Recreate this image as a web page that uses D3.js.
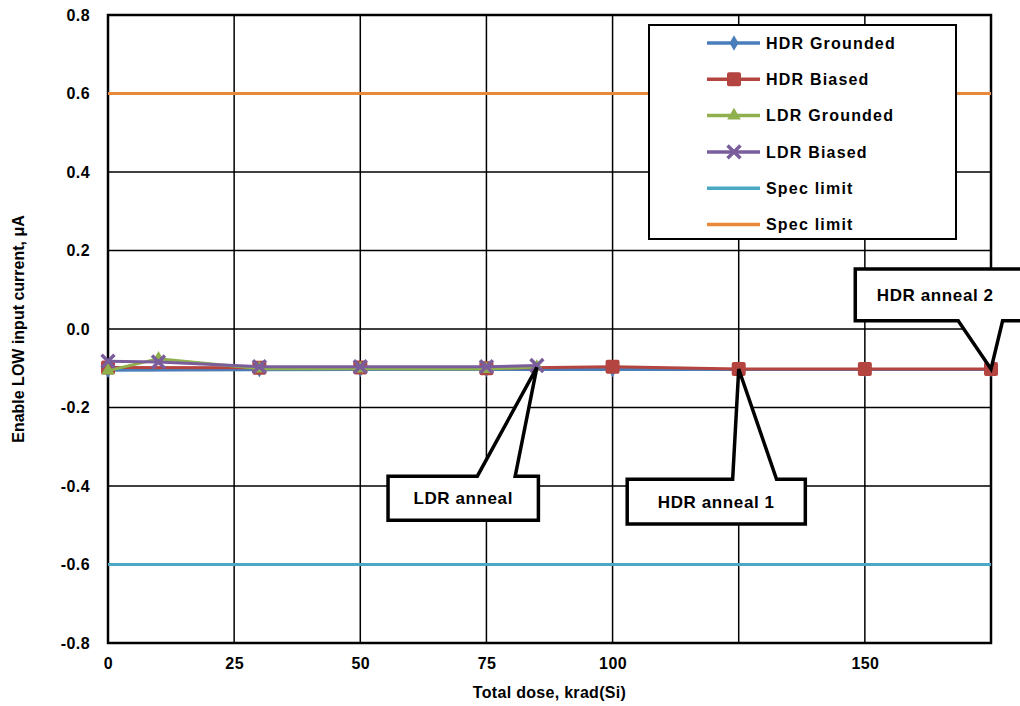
<!DOCTYPE html>
<html>
<head>
<meta charset="utf-8">
<script src="https://cdn.jsdelivr.net/npm/d3@7"></script>
<style>
  body { margin: 0; background: #fff; }
  text { font-family: "Liberation Sans", Arial, sans-serif; font-weight: bold; fill: #000; }
</style>
</head>
<body>
<svg id="chart"></svg>
<script>
// Enable LOW input current vs total dose

var WIDTH = 1020,
    HEIGHT = 706;

var margin = {top: 15, right: 29, bottom: 63, left: 108},
    width = WIDTH - margin.left - margin.right,
    height = HEIGHT - margin.top - margin.bottom;

// data
var hdrDose = [0, 30, 50, 75, 100, 125, 150, 175];
var hdrGrounded = [-0.105, -0.104, -0.103, -0.103, -0.103, -0.103, -0.103, -0.103];
var hdrBiased = [-0.098, -0.099, -0.098, -0.100, -0.096, -0.102, -0.102, -0.102];

var ldrDose = [0, 10, 30, 50, 75, 85];
var ldrGrounded = [-0.106, -0.076, -0.101, -0.101, -0.102, -0.097];
var ldrBiased = [-0.082, -0.084, -0.096, -0.096, -0.096, -0.093];

var specDose = [0, 175];
var specLow = [-0.6, -0.6];
var specHigh = [0.6, 0.6];

var xTicks = [0, 25, 50, 75, 100, 125, 150, 175];
var xTickLabels = ['0', '25', '50', '75', '100', '', '150', ''];
var yTicks = [-0.8, -0.6, -0.4, -0.2, 0, 0.2, 0.4, 0.6, 0.8];
var yTickLabels = ['-0.8', '-0.6', '-0.4', '-0.2', '0.0', '0.2', '0.4', '0.6', '0.8'];

var seriesNames = ['HDR Grounded', 'HDR Biased', 'LDR Grounded', 'LDR Biased', 'Spec limit', 'Spec limit'];

// callouts: tip on the data, box given in data units
var annotations = [
  {text: 'LDR anneal',   tip: [85, -0.098],  box: [55.5, 85.3, -0.375, -0.487], base: [73.2, 80.7]},
  {text: 'HDR anneal 1', tip: [125, -0.102], box: [102.9, 138.2, -0.383, -0.497], base: [123.8, 132.5]},
  {text: 'HDR anneal 2', tip: [175, -0.102], box: [148.1, 183.5, 0.153, 0.021], base: [168.5, 177.3]}
];

var series = [
  {name: seriesNames[0], x: hdrDose, y: hdrGrounded, color: '#4a7ebb', marker: 'diamond'},
  {name: seriesNames[1], x: hdrDose, y: hdrBiased, color: '#b3443f', marker: 'square'},
  {name: seriesNames[2], x: ldrDose, y: ldrGrounded, color: '#8fb04d', marker: 'triangle'},
  {name: seriesNames[3], x: ldrDose, y: ldrBiased, color: '#7a5e9c', marker: 'x'},
  {name: seriesNames[4], x: specDose, y: specLow, color: '#4aa8c2', marker: null},
  {name: seriesNames[5], x: specDose, y: specHigh, color: '#e8883a', marker: null}
];

var svg = d3.select('#chart')
            .attr('width', WIDTH)
            .attr('height', HEIGHT);

var g = svg.append('g')
           .attr('transform', `translate(${margin.left},${margin.top})`);

var x = d3.scaleLinear().domain([0, 175]).range([0, width]);
var y = d3.scaleLinear().domain([-0.8, 0.8]).range([height, 0]);

// gridlines
g.append('g')
  .attr('class', 'grid')
  .selectAll('line.v')
  .data(xTicks).enter()
  .append('line')
  .attr('x1', d => x(d)).attr('x2', d => x(d))
  .attr('y1', 0).attr('y2', height)
  .attr('stroke', '#000').attr('stroke-width', 1.5);

g.append('g')
  .attr('class', 'grid')
  .selectAll('line.h')
  .data(yTicks).enter()
  .append('line')
  .attr('y1', d => y(d)).attr('y2', d => y(d))
  .attr('x1', 0).attr('x2', width)
  .attr('stroke', '#000').attr('stroke-width', 1.5);

g.append('rect')
  .attr('width', width).attr('height', height)
  .attr('fill', 'none').attr('stroke', '#000').attr('stroke-width', 2.5);

// axes (labels only, Excel style)
var xAxis = g.append('g')
  .attr('transform', `translate(0,${height})`)
  .call(d3.axisBottom(x).tickValues(xTicks).tickSize(0).tickPadding(15)
          .tickFormat((d, i) => xTickLabels[i]));
xAxis.select('.domain').remove();
xAxis.selectAll('text').style('font-size', '16px').style('letter-spacing', '0.4px');

var yAxis = g.append('g')
  .call(d3.axisLeft(y).tickValues(yTicks).tickSize(0).tickPadding(18)
          .tickFormat((d, i) => yTickLabels[i]));
yAxis.select('.domain').remove();
yAxis.selectAll('text').style('font-size', '16px').style('letter-spacing', '0.4px');

svg.append('text')
  .attr('x', margin.left + width / 2)
  .attr('y', 698)
  .attr('text-anchor', 'middle')
  .style('font-size', '16px')
  .style('letter-spacing', '0.3px')
  .text('Total dose, krad(Si)');

svg.append('text')
  .attr('transform', `translate(24,${margin.top + height / 2}) rotate(-90)`)
  .attr('text-anchor', 'middle')
  .style('font-size', '16px')
  .text('Enable LOW input current, μA');

// markers
function drawMarker(sel, type, color) {
  if (type === 'square') {
    sel.append('rect')
      .attr('x', -7).attr('y', -7).attr('width', 14).attr('height', 14)
      .attr('rx', 2).attr('fill', color);
  } else if (type === 'diamond') {
    sel.append('path').attr('d', d3.symbol(d3.symbolDiamond, 70)()).attr('fill', color);
  } else if (type === 'triangle') {
    sel.append('path').attr('d', d3.symbol(d3.symbolTriangle, 80)()).attr('fill', color);
  } else if (type === 'x') {
    sel.append('path').attr('d', d3.symbol(d3.symbolX, 110)())
      .attr('fill', 'none').attr('stroke', color).attr('stroke-width', 3.5);
  }
}

var line = d3.line().x(d => x(d[0])).y(d => y(d[1]));

series.forEach(s => {
  var pts = s.x.map((d, i) => [d, s.y[i]]);
  var sg = g.append('g').attr('class', 'series');
  sg.append('path')
    .datum(pts)
    .attr('d', line)
    .attr('fill', 'none')
    .attr('stroke', s.color)
    .attr('stroke-width', 3);
  if (s.marker) {
    sg.selectAll('g.mk')
      .data(pts).enter()
      .append('g')
      .attr('class', 'mk')
      .attr('transform', d => `translate(${x(d[0])},${y(d[1])})`)
      .each(function() { drawMarker(d3.select(this), s.marker, s.color); });
  }
});

// callouts
annotations.forEach(a => {
  var [bx0, bx1, by0, by1] = a.box;
  var L = x(bx0), R = x(bx1), T = y(by0), B = y(by1);
  var tx = x(a.tip[0]), ty = y(a.tip[1]);
  var p0 = x(a.base[0]), p1 = x(a.base[1]);
  var p = d3.path();
  if (ty < T) {
    // wedge on the top edge
    p.moveTo(L, T); p.lineTo(p0, T); p.lineTo(tx, ty); p.lineTo(p1, T);
    p.lineTo(R, T); p.lineTo(R, B); p.lineTo(L, B); p.closePath();
  } else {
    // wedge on the bottom edge
    p.moveTo(L, T); p.lineTo(R, T); p.lineTo(R, B); p.lineTo(p1, B);
    p.lineTo(tx, ty); p.lineTo(p0, B); p.lineTo(L, B); p.closePath();
  }
  g.append('path')
    .attr('d', p.toString())
    .attr('fill', '#fff')
    .attr('stroke', '#000')
    .attr('stroke-width', 3.5)
    .attr('stroke-linejoin', 'miter');
  g.append('text')
    .attr('x', ty < T ? (L + R) / 2 : L + 80)
    .attr('y', (T + B) / 2)
    .attr('dy', '0.35em')
    .attr('text-anchor', 'middle')
    .style('font-size', '17px')
    .style('letter-spacing', '0.6px')
    .text(a.text);
});

// legend
var legend = svg.append('g').attr('transform', 'translate(649,25)');
legend.append('rect')
  .attr('width', 307).attr('height', 214)
  .attr('fill', '#fff').attr('stroke', '#000').attr('stroke-width', 2);

var rows = legend.selectAll('g.row')
  .data(series).enter()
  .append('g')
  .attr('class', 'row')
  .attr('transform', (d, i) => `translate(0,${18 + i * 36.3})`);

rows.append('line')
  .attr('x1', 58).attr('x2', 111)
  .attr('stroke', d => d.color).attr('stroke-width', 3.5);

rows.each(function(d) {
  if (d.marker) {
    var m = d3.select(this).append('g').attr('transform', 'translate(85,0)');
    drawMarker(m, d.marker, d.color);
  }
});

rows.append('text')
  .attr('x', 117)
  .attr('dy', '0.35em')
  .style('font-size', '16px')
  .style('letter-spacing', '1.2px')
  .text(d => d.name);
</script>
</body>
</html>
